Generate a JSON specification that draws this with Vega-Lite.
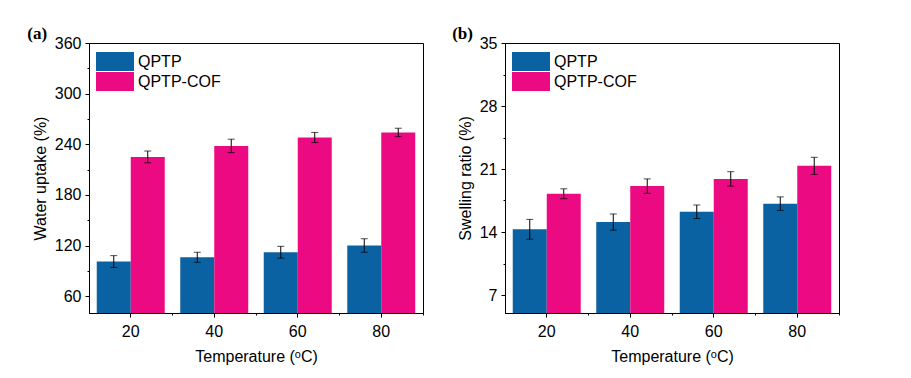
{
  "$schema": "https://vega.github.io/schema/vega-lite/v6.json",
  "background": "white",
  "padding": {"left": 26, "top": 24, "right": 5, "bottom": 5},
  "spacing": 27,
  "data": {"values": [
    {"T": 20, "sample": "QPTP", "wu": 101, "wu_lo": 94, "wu_hi": 108, "sr": 14.3, "sr_lo": 13.2, "sr_hi": 15.4},
    {"T": 40, "sample": "QPTP", "wu": 106, "wu_lo": 100, "wu_hi": 112, "sr": 15.1, "sr_lo": 14.2, "sr_hi": 16.0},
    {"T": 60, "sample": "QPTP", "wu": 112, "wu_lo": 105, "wu_hi": 119, "sr": 16.25, "sr_lo": 15.5, "sr_hi": 17.0},
    {"T": 80, "sample": "QPTP", "wu": 120, "wu_lo": 112, "wu_hi": 128, "sr": 17.15, "sr_lo": 16.4, "sr_hi": 17.9},
    {"T": 20, "sample": "QPTP-COF", "wu": 225, "wu_lo": 218, "wu_hi": 232, "sr": 18.25, "sr_lo": 17.7, "sr_hi": 18.8},
    {"T": 40, "sample": "QPTP-COF", "wu": 238, "wu_lo": 230, "wu_hi": 246, "sr": 19.1, "sr_lo": 18.3, "sr_hi": 19.9},
    {"T": 60, "sample": "QPTP-COF", "wu": 248, "wu_lo": 242, "wu_hi": 254, "sr": 19.9, "sr_lo": 19.1, "sr_hi": 20.7},
    {"T": 80, "sample": "QPTP-COF", "wu": 254, "wu_lo": 249, "wu_hi": 259, "sr": 21.35, "sr_lo": 20.4, "sr_hi": 22.3}
  ]},
  "resolve": {"legend": {"color": "independent"}},
  "hconcat": [
    {
      "width": 334,
      "height": 270,
      "title": {"text": "(a)", "font": "Liberation Serif", "fontSize": 17, "fontWeight": "bold", "anchor": "start", "frame": "bounds", "offset": -8, "dx": -5, "color": "black"},
      "resolve": {"axis": {"x": "independent", "y": "independent"}},
      "layer": [
        {
          "mark": {"type": "bar", "clip": true},
          "encoding": {
            "x": {"field": "T", "type": "ordinal", "scale": {"paddingInner": 0, "paddingOuter": 0},
                  "axis": {"title": "Temperature (ᵒC)", "labelAngle": 0, "bandPosition": 0.5, "tickSize": 4, "labelPadding": 6, "titlePadding": 9, "orient": "bottom"}},
            "xOffset": {"field": "sample", "type": "nominal", "sort": ["QPTP", "QPTP-COF"], "scale": {"paddingInner": 0, "paddingOuter": 0.228}},
            "y": {"field": "wu", "type": "quantitative", "scale": {"domain": [40, 360], "nice": false, "zero": false},
                  "axis": {"title": "Water uptake (%)", "values": [60, 120, 180, 240, 300, 360], "tickSize": 4, "labelPadding": 4, "titlePadding": 6, "orient": "left"}},
            "color": {"field": "sample", "type": "nominal", "scale": {"domain": ["QPTP", "QPTP-COF"], "range": ["#0B62A2", "#EC0A82"]},
                      "legend": {"title": null, "orient": "none", "legendX": 7, "legendY": 9, "symbolType": "M-1,-1H3V1H-1Z", "symbolSize": 361, "symbolStrokeWidth": 0, "symbolOpacity": 1, "labelFontSize": 16, "labelFont": "Liberation Sans", "labelColor": "black", "rowPadding": 1, "labelOffset": 23, "padding": 0}}
          }
        },
        {
          "mark": {"type": "rule", "color": "black", "strokeWidth": 1},
          "encoding": {
            "x": {"field": "T", "type": "ordinal", "axis": {"title": null, "labels": false, "domain": false, "bandPosition": 1, "tickSize": 2, "orient": "bottom"}},
            "xOffset": {"field": "sample", "type": "nominal", "sort": ["QPTP", "QPTP-COF"]},
            "y": {"field": "wu_lo", "type": "quantitative", "axis": {"title": null, "labels": false, "domain": false, "values": [90, 150, 210, 270, 330], "tickSize": 2, "orient": "left"}},
            "y2": {"field": "wu_hi"}
          }
        },
        {
          "mark": {"type": "tick", "color": "black", "size": 7, "thickness": 1},
          "encoding": {
            "x": {"field": "T", "type": "ordinal", "axis": null},
            "xOffset": {"field": "sample", "type": "nominal", "sort": ["QPTP", "QPTP-COF"]},
            "y": {"field": "wu_hi", "type": "quantitative", "axis": null}
          }
        },
        {
          "mark": {"type": "tick", "color": "black", "size": 7, "thickness": 1},
          "encoding": {
            "x": {"field": "T", "type": "ordinal", "axis": null},
            "xOffset": {"field": "sample", "type": "nominal", "sort": ["QPTP", "QPTP-COF"]},
            "y": {"field": "wu_lo", "type": "quantitative", "axis": null}
          }
        }
      ]
    },
    {
      "width": 334,
      "height": 270,
      "title": {"text": "(b)", "font": "Liberation Serif", "fontSize": 17, "fontWeight": "bold", "anchor": "start", "frame": "bounds", "offset": -8, "dx": -5, "color": "black"},
      "resolve": {"axis": {"x": "independent", "y": "independent"}},
      "layer": [
        {
          "mark": {"type": "bar", "clip": true},
          "encoding": {
            "x": {"field": "T", "type": "ordinal", "scale": {"paddingInner": 0, "paddingOuter": 0},
                  "axis": {"title": "Temperature (ᵒC)", "labelAngle": 0, "bandPosition": 0.5, "tickSize": 4, "labelPadding": 6, "titlePadding": 9, "orient": "bottom"}},
            "xOffset": {"field": "sample", "type": "nominal", "sort": ["QPTP", "QPTP-COF"], "scale": {"paddingInner": 0, "paddingOuter": 0.228}},
            "y": {"field": "sr", "type": "quantitative", "scale": {"domain": [5, 35], "nice": false, "zero": false},
                  "axis": {"title": "Swelling ratio (%)", "values": [7, 14, 21, 28, 35], "tickSize": 4, "labelPadding": 4, "titlePadding": 6, "orient": "left"}},
            "color": {"field": "sample", "type": "nominal", "scale": {"domain": ["QPTP", "QPTP-COF"], "range": ["#0B62A2", "#EC0A82"]},
                      "legend": {"title": null, "orient": "none", "legendX": 7, "legendY": 9, "symbolType": "M-1,-1H3V1H-1Z", "symbolSize": 361, "symbolStrokeWidth": 0, "symbolOpacity": 1, "labelFontSize": 16, "labelFont": "Liberation Sans", "labelColor": "black", "rowPadding": 1, "labelOffset": 23, "padding": 0}}
          }
        },
        {
          "mark": {"type": "rule", "color": "black", "strokeWidth": 1},
          "encoding": {
            "x": {"field": "T", "type": "ordinal", "axis": {"title": null, "labels": false, "domain": false, "bandPosition": 1, "tickSize": 2, "orient": "bottom"}},
            "xOffset": {"field": "sample", "type": "nominal", "sort": ["QPTP", "QPTP-COF"]},
            "y": {"field": "sr_lo", "type": "quantitative", "axis": {"title": null, "labels": false, "domain": false, "values": [10.5, 17.5, 24.5, 31.5], "tickSize": 2, "orient": "left"}},
            "y2": {"field": "sr_hi"}
          }
        },
        {
          "mark": {"type": "tick", "color": "black", "size": 7, "thickness": 1},
          "encoding": {
            "x": {"field": "T", "type": "ordinal", "axis": null},
            "xOffset": {"field": "sample", "type": "nominal", "sort": ["QPTP", "QPTP-COF"]},
            "y": {"field": "sr_hi", "type": "quantitative", "axis": null}
          }
        },
        {
          "mark": {"type": "tick", "color": "black", "size": 7, "thickness": 1},
          "encoding": {
            "x": {"field": "T", "type": "ordinal", "axis": null},
            "xOffset": {"field": "sample", "type": "nominal", "sort": ["QPTP", "QPTP-COF"]},
            "y": {"field": "sr_lo", "type": "quantitative", "axis": null}
          }
        }
      ]
    }
  ],
  "config": {
    "view": {"stroke": "black", "strokeWidth": 1},
    "font": "Liberation Sans",
    "axis": {"grid": false, "domainColor": "black", "tickColor": "black", "labelColor": "black", "titleColor": "black",
             "labelFont": "Liberation Sans", "labelFontSize": 16, "titleFont": "Liberation Sans", "titleFontSize": 16, "titleFontWeight": "normal"},
    "legend": {"labelFont": "Liberation Sans"}
  }
}
